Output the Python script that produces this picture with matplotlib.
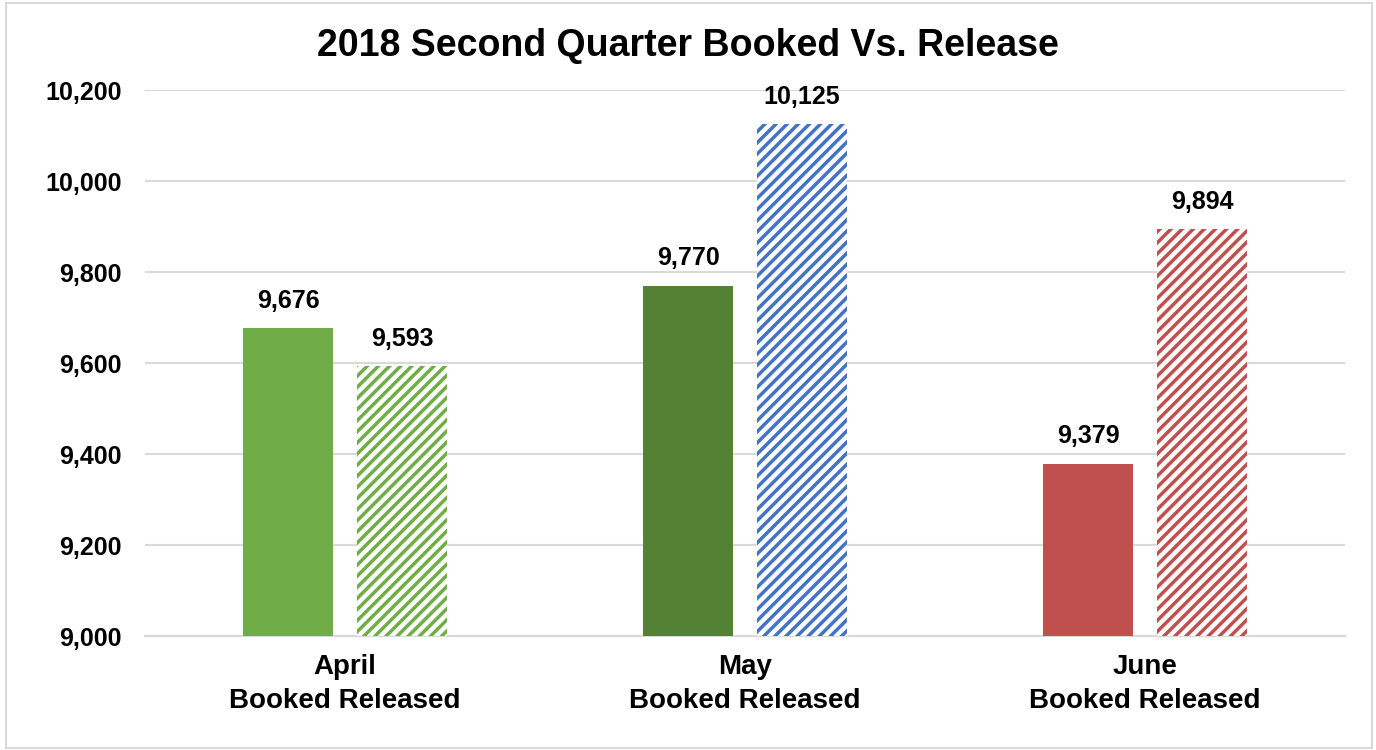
import matplotlib.pyplot as plt
from matplotlib.patches import Rectangle
import numpy as np

plt.rcParams['font.family'] = ['Liberation Sans', 'DejaVu Sans']
plt.rcParams['hatch.linewidth'] = 2.5

months = ['April', 'May', 'June']
booked = [9676, 9770, 9379]
released = [9593, 10125, 9894]
booked_colors = ['#70AD47', '#548235', '#C0504D']
released_colors = ['#70AD47', '#4472C4', '#C0504D']

fig = plt.figure(figsize=(13.76, 7.5), dpi=100)
# thin gray chart border
fig.patches.append(Rectangle((6 / 1376, 2 / 750), 1366 / 1376, 745 / 750,
                             transform=fig.transFigure, fill=False,
                             edgecolor='#D9D9D9', linewidth=1.5))
ax = fig.add_axes([145 / 1376, 1 - 636 / 750, 1200 / 1376, 546 / 750])

x = np.arange(len(months))
w = 0.225
off = 0.1425

b1 = ax.bar(x - off, booked, w, color=booked_colors, zorder=3)
b2 = ax.bar(x + off, released, w, color='white', zorder=3, linewidth=0)
for bar, c in zip(b2, released_colors):
    bar.set_hatch('///')
    bar.set_edgecolor(c)

for bars in (b1, b2):
    for bar in bars:
        h = bar.get_height()
        ax.annotate(f'{h:,.0f}', (bar.get_x() + bar.get_width() / 2, h),
                    xytext=(0, 11), textcoords='offset points',
                    ha='center', va='bottom', fontsize=18, fontweight='bold')

ax.set_ylim(9000, 10200)
ax.set_yticks(np.arange(9000, 10201, 200))
ax.set_yticklabels([f'{v:,}' for v in range(9000, 10201, 200)],
                   fontsize=18, fontweight='bold')
ax.set_xlim(-0.5, 2.5)
ax.set_xticks(x)
ax.set_xticklabels([m + '\nBooked Released' for m in months],
                   fontsize=20, fontweight='bold', linespacing=1.38)
ax.tick_params(length=0)
ax.tick_params(axis='x', pad=13)
ax.tick_params(axis='y', pad=17)
ax.grid(axis='y', color='#D9D9D9', linewidth=1.5, zorder=0)
for s in ['top', 'right', 'left']:
    ax.spines[s].set_visible(False)
ax.spines['bottom'].set_color('#D9D9D9')
ax.spines['bottom'].set_linewidth(1.5)

fig.text(688 / 1376, 1 - 46 / 750, '2018 Second Quarter Booked Vs. Release',
         ha='center', va='center', fontsize=27, fontweight='bold')

fig.savefig('out.png', dpi=100)
